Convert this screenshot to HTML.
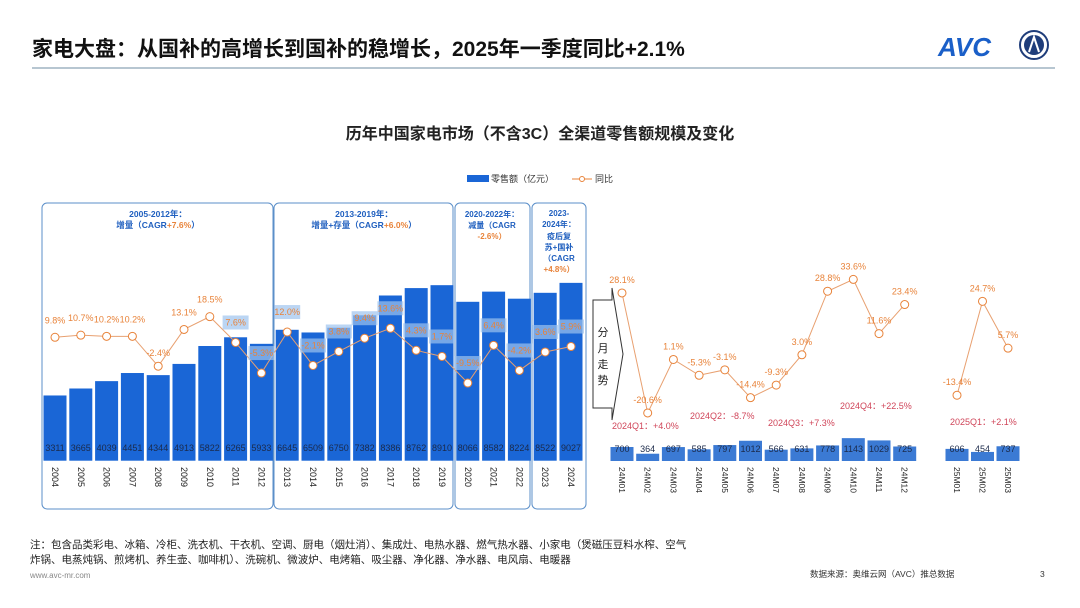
<!DOCTYPE html>
<html><head><meta charset="utf-8">
<style>
body{margin:0;background:#fff;width:1080px;height:608px;overflow:hidden;font-family:"Liberation Sans","Noto Sans CJK SC",sans-serif;}
svg{position:absolute;left:0;top:0}
</style></head>
<body>
<svg id="c" width="1080" height="608" viewBox="0 0 1080 608" font-family="Liberation Sans, Noto Sans CJK SC, sans-serif">
<text x="32" y="56" font-size="21" font-weight="bold" fill="#111">家电大盘：从国补的高增长到国补的稳增长，2025年一季度同比+2.1%</text>
<line x1="32" y1="68" x2="1055" y2="68" stroke="#9fb4c2" stroke-width="1.5"/>
<g>
<text x="938" y="56" font-size="26" font-weight="bold" fill="#1a5fc8" font-style="italic">AVC</text>
<circle cx="1034" cy="45" r="14" fill="#fff" stroke="#1f3d7a" stroke-width="2"/>
<circle cx="1034" cy="45" r="10" fill="#1f3d7a"/>
<path d="M1029 52 L1034 37 L1039 52" stroke="#fff" stroke-width="2" fill="none"/>
</g>
<text x="540" y="139" text-anchor="middle" font-size="16" font-weight="bold" fill="#222">历年中国家电市场（不含3C）全渠道零售额规模及变化</text>
<g>
<rect x="467" y="175" width="22" height="7" fill="#1a66d6"/>
<text x="491" y="182" font-size="9" fill="#333">零售额（亿元）</text>
<line x1="572" y1="179" x2="592" y2="179" stroke="#e8833a"/>
<circle cx="582" cy="179" r="2.5" fill="#fff" stroke="#e8833a"/>
<text x="595" y="182" font-size="9" fill="#333">同比</text>
</g>
<g id="left"></g>
<g id="right"></g>
<g>
<path d="M593 300 L612 300 L612 288 L623 354 L612 420 L612 408 L593 408 Z" fill="#fff" stroke="#333" stroke-width="1"/>
<text x="603" y="336" font-size="11" fill="#222" text-anchor="middle">分</text>
<text x="603" y="352" font-size="11" fill="#222" text-anchor="middle">月</text>
<text x="603" y="368" font-size="11" fill="#222" text-anchor="middle">走</text>
<text x="603" y="384" font-size="11" fill="#222" text-anchor="middle">势</text>
</g>
<text x="30" y="548" font-size="10.5" fill="#222">注：包含品类彩电、冰箱、冷柜、洗衣机、干衣机、空调、厨电（烟灶消）、集成灶、电热水器、燃气热水器、小家电（煲磁压豆料水榨、空气</text>
<text x="30" y="563" font-size="10.5" fill="#222">炸锅、电蒸炖锅、煎烤机、养生壶、咖啡机）、洗碗机、微波炉、电烤箱、吸尘器、净化器、净水器、电风扇、电暖器</text>
<text x="30" y="578" font-size="8" fill="#888">www.avc-mr.com</text>
<text x="810" y="577" font-size="8.5" fill="#333">数据来源：奥维云网（AVC）推总数据</text>
<text x="1040" y="577" font-size="8.5" fill="#333">3</text>
</svg>
<script>
const years=["2004","2005","2006","2007","2008","2009","2010","2011","2012","2013","2014","2015","2016","2017","2018","2019","2020","2021","2022","2023","2024"];
const sales=[3311,3665,4039,4451,4344,4913,5822,6265,5933,6645,6509,6750,7382,8386,8762,8910,8066,8582,8224,8522,9027];
const yoy=[9.8,10.7,10.2,10.2,-2.4,13.1,18.5,7.6,-5.3,12.0,-2.1,3.8,9.4,13.6,4.3,1.7,-9.5,6.4,-4.2,3.6,5.9];
const yoyLabels=["9.8%","10.7%","10.2%","10.2%","-2.4%","13.1%","18.5%","7.6%","-5.3%","12.0%","-2.1%","3.8%","9.4%","13.6%","4.3%","1.7%","-9.5%","6.4%","-4.2%","3.6%","5.9%"];
const months=["24M01","24M02","24M03","24M04","24M05","24M06","24M07","24M08","24M09","24M10","24M11","24M12","25M01","25M02","25M03"];
const msales=[700,364,697,585,797,1012,566,631,778,1143,1029,725,606,454,737];
const myoy=[28.1,-20.6,1.1,-5.3,-3.1,-14.4,-9.3,3.0,28.8,33.6,11.6,23.4,-13.4,24.7,5.7];
const periods=[{t1:"2005-2012年：",t2:"增量（CAGR",t3:"+7.6%",t4:"）"},{t1:"2013-2019年：",t2:"增量+存量（CAGR",t3:"+6.0%",t4:"）"}];
const quarters=["2024Q1：+4.0%","2024Q2：-8.7%","2024Q3：+7.3%","2024Q4：+22.5%","2025Q1：+2.1%"];
const NS="http://www.w3.org/2000/svg";
function mk(p,tag,a,txt){const e=document.createElementNS(NS,tag);for(const k in a)e.setAttribute(k,a[k]);if(txt!=null)e.textContent=txt;p.appendChild(e);return e;}
const L=document.getElementById('left'),R=document.getElementById('right');
const lx=i=>55+i*25.8, ly=v=>460.7-v*0.0197, lr=v=>360.5-v*2.37;
[[42,273],[274,453],[455,530],[532,586]].forEach((b,i)=>{const r=mk(L,'rect',{x:b[0],y:203,width:b[1]-b[0],height:306,rx:5,fill:'none',stroke:'#5b8fc9','stroke-width':1});

});
const bc=[158,364];
periods.forEach((p,i)=>{const t=mk(L,'text',{x:bc[i],y:217,'font-size':8.5,'font-weight':'bold',fill:'#1f5fbf','text-anchor':'middle'},p.t1);


const t2=mk(L,'text',{x:bc[i],y:228,'font-size':8.5,'font-weight':'bold',fill:'#1f5fbf','text-anchor':'middle'});


mk(t2,'tspan',{},p.t2);mk(t2,'tspan',{fill:'#e8833a'},p.t3);mk(t2,'tspan',{},p.t4);});
const small=[[492,217,"2020-2022年：",'#1f5fbf'],[492,228,"减量（CAGR",'#1f5fbf'],[492,239,"-2.6%）",'#e8833a'],[559,216,"2023-",'#1f5fbf'],[559,227,"2024年：",'#1f5fbf'],[559,239,"疫后复",'#1f5fbf'],[559,250,"苏+国补",'#1f5fbf'],[559,261,"（CAGR",'#1f5fbf'],[559,272,"+4.8%）",'#e8833a']];
small.forEach((s,i)=>{const t=mk(L,'text',{x:s[0],y:s[1],'font-size':8,'font-weight':'bold',fill:s[3],'text-anchor':'middle'},s[2]);

});
sales.forEach((v,i)=>{const b=mk(L,'rect',{x:lx(i)-11.5,y:ly(v),width:23,height:460.7-ly(v),fill:'#1a66d6'});


const t=mk(L,'text',{x:lx(i),y:451,'font-size':9,fill:'#1b2a4a','text-anchor':'middle'},v);


const y=mk(L,'text',{transform:`translate(${lx(i)-3},467) rotate(90)`,'font-size':9,fill:'#222'},years[i]);

});
const pl=mk(L,'polyline',{points:yoy.map((v,i)=>lx(i)+','+lr(v)).join(' '),fill:'none',stroke:'#e8a070','stroke-width':1});


yoy.forEach((v,i)=>{const inBar=lr(v)>ly(sales[i]);
const c=mk(L,'circle',{cx:lx(i),cy:lr(v),r:4,fill:'#fff',stroke:'#e8833a','stroke-width':1});


const ty=inBar?lr(v)-17:(v<0&&i===4?lr(v)-10:lr(v)-14);
if(inBar){const bg=mk(L,'rect',{x:lx(i)-13,y:ty-10,width:26,height:14,fill:'#9ec3ee',opacity:0.7});

}
const t=mk(L,'text',{x:lx(i),y:ty,'font-size':9,fill:'#e8833a','text-anchor':'middle'},yoyLabels[i]);

});
const rx=i=>i<12?622+i*25.7:957+(i-12)*25.5, ry=v=>461-v*0.02, rr=v=>362.2-v*2.464;
msales.forEach((v,i)=>{const b=mk(R,'rect',{x:rx(i)-11.5,y:ry(v),width:23,height:461-ry(v),fill:'#3b7ad4'});


const t=mk(R,'text',{x:rx(i),y:452,'font-size':9,fill:'#1b2a4a','text-anchor':'middle'},v);


const m=mk(R,'text',{transform:`translate(${rx(i)-3},467) rotate(90)`,'font-size':8.5,fill:'#222'},months[i]);

});
[[0,12],[12,15]].forEach((s,k)=>{const p=mk(R,'polyline',{points:myoy.slice(s[0],s[1]).map((v,j)=>rx(s[0]+j)+','+rr(v)).join(' '),fill:'none',stroke:'#e8a070','stroke-width':1});

});
myoy.forEach((v,i)=>{const c=mk(R,'circle',{cx:rx(i),cy:rr(v),r:4,fill:'#fff',stroke:'#e8833a'});


const t=mk(R,'text',{x:rx(i),y:rr(v)-10,'font-size':9,fill:'#e8833a','text-anchor':'middle'},v.toFixed(1)+'%');

});
const qpos=[[612,429],[690,419],[768,426],[840,409],[950,425]];
quarters.forEach((q,i)=>{const t=mk(R,'text',{x:qpos[i][0],y:qpos[i][1],'font-size':9,fill:'#d0465a'},q);

});
</script>
</body></html>
